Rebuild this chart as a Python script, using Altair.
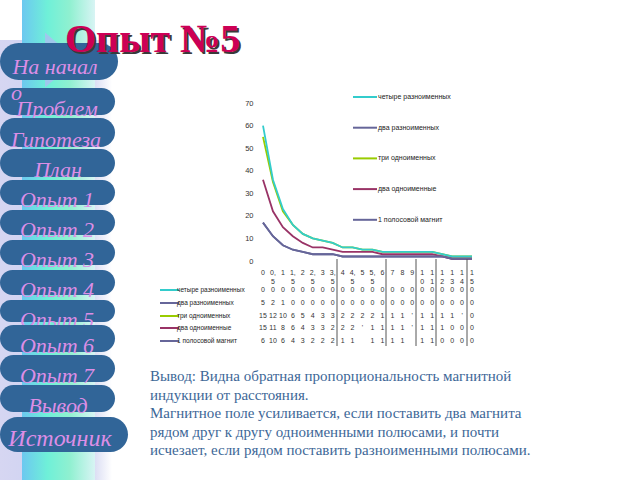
import altair as alt
import pandas as pd

# ---------------- data ----------------
categories = ["0", "0,5", "1", "1,5", "2", "2,5", "3", "3,5", "4", "4,5", "5", "5,5",
              "6", "7", "8", "9", "10", "11", "12", "13", "14", "15"]
series_names = ["четыре разноименных", "два разноименных", "три одноименных",
                "два одноименные", "1 полосовой магнит"]
series_colors = ["#33cccc", "#666699", "#99cc00", "#993366", "#666699"]

four_opposite = [60, 36, 23, 16, 12, 10, 9, 8, 6, 6, 5, 5, 4, 4, 4, 4, 4, 4, 3, 2, 2, 2]
two_opposite = [17, 11, 7, 5, 4, 3, 3, 3, 2, 2, 2, 2, 2, 2, 2, 2, 2, 2, 2, 1, 1, 1]
three_same = [55, 35, 22, 16, 12, 10, 9, 8, 6, 6, 5, 5, 4, 4, 4, 4, 4, 4, 3, 2, 2, 2]
two_same = [36, 22, 15, 11, 8, 6, 6, 5, 4, 4, 4, 4, 3, 3, 3, 3, 3, 3, 2, 1, 1, 1]
bar_magnet = [17, 11, 7, 5, 4, 3, 3, 3, 2, 2, 2, 2, 2, 2, 2, 2, 2, 2, 2, 1, 1, 1]
series_values = [four_opposite, two_opposite, three_same, two_same, bar_magnet]
draw_order = [1, 2, 0, 3, 4]

y_ticks = [0, 10, 20, 30, 40, 50, 60, 70]

# data-table cells as they appear (truncated in the original)
table_four_opposite = ["0", "0", "0", "0", "0", "0", "0", "0", "0", "0", "0", "0",
                       "0", "0", "0", "0", "0", "0", "0", "0", "0", "0"]
table_two_opposite = ["5", "2", "1", "0", "0", "0", "0", "0", "0", "0", "0", "0",
                      "0", "0", "0", "0", "0", "0", "0", "0", "0", "0"]
table_three_same = ["15", "12", "10", "6", "5", "4", "3", "3", "2", "2", "2", "2",
                    "1", "1", "1", "'", "1", "1", "1", "1", "'", "0"]
table_two_same = ["15", "11", "8", "6", "4", "3", "3", "2", "2", "2", "'", "1",
                  "1", "1", "1", "'", "1", "1", "1", "0", "0", "0"]
table_bar_magnet = ["6", "10", "6", "4", "3", "2", "2", "2", "1", "1", "", "1",
                    "1", "1", "1", "", "1", "1", "0", "0", "0", "0"]
table_rows = [table_four_opposite, table_two_opposite, table_three_same,
              table_two_same, table_bar_magnet]

menu_items = ["На начал", "Проблем", "Гипотеза", "План", "Опыт 1", "Опыт 2", "Опыт 3",
              "Опыт 4", "Опыт 5", "Опыт 6", "Опыт 7", "Вывод", "Источник"]
menu_wrap = "о"
title_text = "Опыт №5"
conclusion_lines = [
    "Вывод: Видна обратная пропорциональность магнитной",
    "индукции от расстояния.",
    "Магнитное поле усиливается, если поставить два магнита",
    "рядом друг к другу одноименными полюсами, и почти",
    "исчезает, если рядом поставить разноименными полюсами.",
]

# ---------------- layout ----------------
pill_boxes = [(0, 118, 43, 80), (0, 115, 88, 115), (0, 115, 118, 147), (0, 115, 149, 177),
              (0, 115, 180, 205), (0, 115, 210, 235), (0, 115, 240, 265), (0, 115, 270, 295),
              (0, 115, 300, 322), (0, 115, 325, 352), (0, 115, 355, 382), (0, 115, 385, 412),
              (0, 128, 417, 452)]
pill_text_pos = [(55, 74), (57, 116), (56, 147), (58, 177), (57, 207), (57, 237), (57, 267),
                 (57, 297), (57, 327), (57, 353), (57, 383), (58, 413), (60, 446)]
row_y = [290, 303, 316, 328, 341]
separator_x = [337, 386, 416, 436, 467]


def one():
    return alt.Data(values=[{"k": 0}])


layers = []

# background strip
layers.append(alt.Chart(one()).mark_rect(color=alt.Gradient(
    gradient="linear", x1=0, x2=1, y1=0, y2=0,
    stops=[alt.GradientStop(color="#d6d6f2", offset=0),
           alt.GradientStop(color="#cdd2f2", offset=0.5),
           alt.GradientStop(color="#dcdff4", offset=0.85),
           alt.GradientStop(color="#ffffff", offset=1)])).encode(
    x=alt.value(0), x2=alt.value(112), y=alt.value(40), y2=alt.value(480)))
layers.append(alt.Chart(one()).mark_rect(color=alt.Gradient(
    gradient="linear", x1=0, x2=1, y1=0, y2=0,
    stops=[alt.GradientStop(color="#6cc8f0", offset=0),
           alt.GradientStop(color="#6ff0d8", offset=0.35),
           alt.GradientStop(color="#8ff0d0", offset=0.65),
           alt.GradientStop(color="#d8f4f4", offset=1)])).encode(
    x=alt.value(22), x2=alt.value(95), y=alt.value(0), y2=alt.value(480)))
layers.append(alt.Chart(one()).mark_point(
    shape="M-0.58,-1L0.58,0L-0.58,1Z", filled=True, size=3025, color="#a8bff0", opacity=0.85).encode(
    x=alt.value(61), y=alt.value(60)))

# menu buttons
for i, (label, box, tp) in enumerate(zip(menu_items, pill_boxes, pill_text_pos)):
    x0, x1, y0, y1 = box
    layers.append(alt.Chart(one()).mark_rect(
        cornerRadius=(y1 - y0) / 2, color="#316598").encode(
        x=alt.value(x0), x2=alt.value(x1), y=alt.value(y0), y2=alt.value(y1)))
    size = 24 if label == "Источник" else 22
    layers.append(alt.Chart(one()).mark_text(
        font="Liberation Serif", fontStyle="italic", fontSize=size, color="#dc8ee6",
        align="center", baseline="alphabetic").encode(
        x=alt.value(tp[0]), y=alt.value(tp[1]), text=alt.value(label)))
    if i == 1:
        layers.append(alt.Chart(one()).mark_text(
            font="Liberation Serif", fontStyle="italic", fontSize=22, color="#dc8ee6",
            align="left", baseline="alphabetic").encode(
            x=alt.value(11), y=alt.value(100), text=alt.value(menu_wrap)))

# title with shadow
layers.append(alt.Chart(one()).mark_text(
    font="Liberation Serif", fontWeight="bold", fontSize=40, color="#3a3a3a",
    align="left", baseline="alphabetic").encode(
    x=alt.value(67), y=alt.value(54), text=alt.value(title_text)))
layers.append(alt.Chart(one()).mark_text(
    font="Liberation Serif", fontWeight="bold", fontSize=40, color="#cc0055",
    align="left", baseline="alphabetic").encode(
    x=alt.value(65), y=alt.value(52), text=alt.value(title_text)))

# ---------------- line chart ----------------
recs = []
for name, vals in zip(series_names, series_values):
    for c, v in zip(categories, vals):
        recs.append({"cat": c, "series": name, "value": v})
df = pd.DataFrame(recs)

x_enc = alt.X("cat:N", sort=categories,
              scale=alt.Scale(type="point", domain=categories, range=[263, 472], padding=0),
              axis=None)
y_enc = alt.Y("value:Q",
              scale=alt.Scale(domain=[0, 70], range=[261, 103], nice=False),
              axis=alt.Axis(values=y_ticks, grid=False, domain=False, ticks=False, tickSize=0,
                            labelPadding=2, offset=-255, labelFontSize=7.5,
                            labelFont="Liberation Sans", labelColor="#333", title=None))
c_enc = alt.Color("series:N",
                  scale=alt.Scale(domain=series_names, range=series_colors),
                  legend=alt.Legend(title=None, orient="none", legendX=352, legendY=84,
                                    direction="vertical", symbolType="stroke",
                                    symbolSize=576, symbolStrokeWidth=2,
                                    labelFontSize=7, labelFont="Liberation Sans",
                                    labelColor="#222", rowPadding=13.7, labelOffset=0,
                                    padding=0))

for idx in draw_order:
    name = series_names[idx]
    layers.append(alt.Chart(df).mark_line(strokeWidth=1.8).encode(
        x=x_enc, y=y_enc, color=c_enc).transform_filter(alt.datum.series == name))

# ---------------- data table ----------------
hdr = pd.DataFrame({"cat": categories,
                    "lab": [c if len(c) == 1 else c[:-1] + "\n" + c[-1] for c in categories]})
layers.append(alt.Chart(hdr).mark_text(
    lineBreak="\n", fontSize=7, lineHeight=9, font="Liberation Sans", color="#333",
    align="center", baseline="middle").encode(x=x_enc, y=alt.value(273), text="lab:N"))

for r, (name, color, cells) in enumerate(zip(series_names, series_colors, table_rows)):
    tdf = pd.DataFrame({"cat": categories, "txt": cells})
    layers.append(alt.Chart(tdf).mark_text(
        fontSize=7, font="Liberation Sans", color="#333", align="center",
        baseline="middle").encode(x=x_enc, y=alt.value(row_y[r]), text="txt:N"))
    layers.append(alt.Chart(one()).mark_rule(strokeWidth=2, color=color).encode(
        x=alt.value(160), x2=alt.value(179), y=alt.value(row_y[r])))
    layers.append(alt.Chart(one()).mark_text(
        fontSize=6.5, font="Liberation Sans", color="#222", align="left",
        baseline="middle").encode(x=alt.value(177), y=alt.value(row_y[r]),
                                  text=alt.value(name)))

for sx in separator_x:
    layers.append(alt.Chart(one()).mark_rule(strokeWidth=1, color="#555").encode(
        x=alt.value(sx), y=alt.value(259), y2=alt.value(346)))

# conclusion text
layers.append(alt.Chart(one()).mark_text(
    font="Liberation Serif", fontSize=15, color="#3d6797", align="left",
    baseline="alphabetic", lineHeight=18.6).encode(
    x=alt.value(150), y=alt.value(381), text=alt.value(conclusion_lines)))

chart = alt.layer(*layers).properties(
    width=640, height=480, padding=0,
    autosize=alt.AutoSizeParams(type="none"),
    background="white",
).configure_view(stroke=None)

chart.save("out.html", embed_options={"renderer": "svg", "actions": False})
